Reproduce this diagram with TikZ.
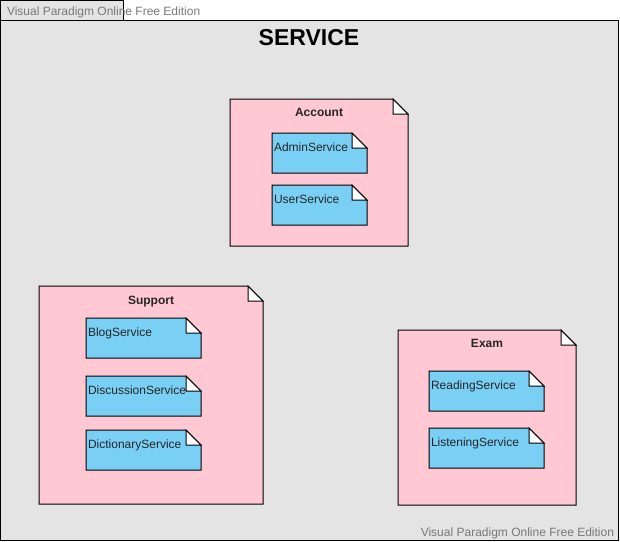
\documentclass[tikz,border=0pt]{standalone}
\usepackage{fontspec}
\setmainfont{Liberation Sans}
\usepackage{tikz}
\usetikzlibrary{positioning,calc}

\definecolor{bggray}{RGB}{228,228,228}
\definecolor{pkgpink}{RGB}{255,200,210}
\definecolor{svcblue}{RGB}{122,207,245}
\definecolor{wmgray}{RGB}{120,120,120}

% folded corner over a rectangular node: node, fold size, colour outside the fold
\newcommand{\foldcorner}[3]{%
  \fill[#3] ($(#1.north east)+(-#2,0pt)$) -- (#1.north east) -- ($(#1.north east)+(0pt,-#2)$) -- cycle;
  \filldraw[fill=white] ($(#1.north east)+(-#2,0pt)$) |- ($(#1.north east)+(0pt,-#2)$) -- cycle;
  \draw (#1.south west) -- (#1.north west) -- ($(#1.north east)+(-#2,0pt)$)
        -- ($(#1.north east)+(0pt,-#2)$) -- (#1.south east) -- cycle;
}

\begin{document}
\begin{tikzpicture}[
          x=1pt, y=-1pt, line width=1pt,
          every node/.style={outer sep=0pt},
          pkg/.style={fill=pkgpink, inner sep=0pt, anchor=north west},
          pkgtitle/.style={font=\fontsize{12}{14}\selectfont\bfseries,
                           text=black!85, inner sep=0pt, anchor=base},
          svc/.style={fill=svcblue, inner xsep=2pt, inner ysep=0pt,
                      text width=#1, align=left, text height=18pt, text depth=22pt,
                      font=\fontsize{12}{14}\selectfont, text=black!85},
          wmark/.style={font=\fontsize{12}{14}\selectfont, text=wmgray, inner sep=0pt}
        ]
          \useasboundingbox (0,0) rectangle (620,541);
          \node[draw, fill=bggray, inner sep=0pt, anchor=north west,
                minimum width=618pt, minimum height=520pt] (frm) at (0.5,20) {};
          \node[draw, fill=bggray, inner sep=0pt, anchor=north west,
                minimum width=123pt, minimum height=20pt] (wmb) at (0.5,0.5) {};
          \node[wmark, anchor=base west] (wmt) at (7,15.5) {Visual Paradigm Online Free Edition};
          \node[wmark, anchor=base east] (wmf) at (614,536.5) {Visual Paradigm Online Free Edition};
          \node[font=\fontsize{23}{26}\selectfont\bfseries, inner sep=0pt, anchor=base] (ttl)
                at (309,45.5) {SERVICE};

          % Account
          \node[pkg, minimum width=178pt, minimum height=147pt] (acc) at (230,99) {};
          \foldcorner{acc}{15pt}{bggray}
          \node[pkgtitle] (acct) at ([yshift=-17.5pt]acc.north) {Account};
          \node[svc=91pt, anchor=north west] (adm) at (272,133) {AdminService};
          \node[svc=91pt, below=12pt of adm] (usr) {UserService};
          \foldcorner{adm}{15pt}{pkgpink}
          \foldcorner{usr}{15pt}{pkgpink}

          % Support
          \node[pkg, minimum width=224pt, minimum height=218pt] (sup) at (39,286) {};
          \foldcorner{sup}{15pt}{bggray}
          \node[pkgtitle] (supt) at ([yshift=-18.3pt]sup.north) {Support};
          \node[svc=111pt, anchor=north west] (blg) at (86,318) {BlogService};
          \node[svc=111pt, below=18pt of blg] (dsc) {DiscussionService};
          \node[svc=111pt, below=14pt of dsc] (dct) {DictionaryService};
          \foldcorner{blg}{15pt}{pkgpink}
          \foldcorner{dsc}{15pt}{pkgpink}
          \foldcorner{dct}{15pt}{pkgpink}

          % Exam
          \node[pkg, minimum width=178pt, minimum height=175pt] (exm) at (398,330) {};
          \foldcorner{exm}{15pt}{bggray}
          \node[pkgtitle] (exmt) at ([yshift=-17.3pt]exm.north) {Exam};
          \node[svc=111pt, anchor=north west] (rdg) at (429,371) {ReadingService};
          \node[svc=111pt, below=17pt of rdg] (lst) {ListeningService};
          \foldcorner{rdg}{15pt}{pkgpink}
          \foldcorner{lst}{15pt}{pkgpink}
        \end{tikzpicture}
\end{document}
